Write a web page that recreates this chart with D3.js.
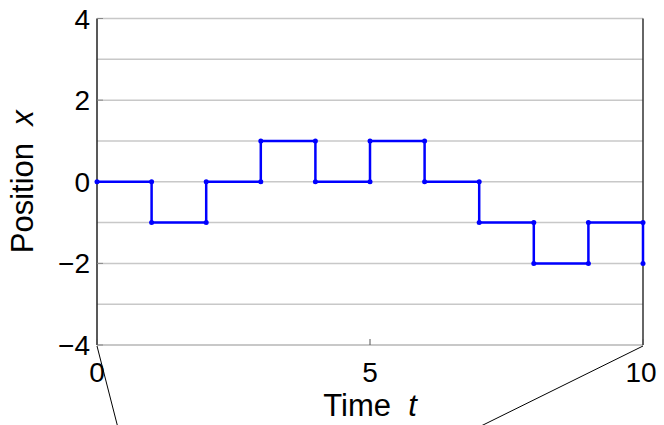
<!DOCTYPE html>
<html><head><meta charset="utf-8">
<script src="https://cdn.jsdelivr.net/npm/d3@7"></script>
<style>body{margin:0;background:#fff}svg{display:block}text{font-family:"Liberation Sans",Arial,Helvetica,sans-serif;fill:#000}</style>
</head><body>
<svg id="c" width="664" height="425"></svg>
<script>
const times = [0,1,2,3,4,5,6,7,8,9,10];
const positions = [0,-1,0,1,0,1,0,-1,-2,-1,-2];
const yTicks = [-4,-2,0,2,4];
const yGrid = [-4,-3,-2,-1,0,1,2,3,4];
const xTicks = [0,5,10];

const svg = d3.select("#c");
const L=97, R=643, T=18.5, B=345;
const x = d3.scaleLinear().domain([0,10]).range([L,R]);
const y = d3.scaleLinear().domain([-4,4]).range([B,T]);

// grid
svg.append("g").selectAll("line").data(yGrid).join("line")
  .attr("x1",L).attr("x2",R).attr("y1",d=>y(d)).attr("y2",d=>y(d))
  .attr("stroke","#c8c8c8").attr("stroke-width",d=>d===-4?2:1.5);

// axis lines
svg.append("line").attr("x1",L).attr("x2",L).attr("y1",T).attr("y2",B).attr("stroke","#222").attr("stroke-width",1.5);
svg.append("line").attr("x1",R).attr("x2",R).attr("y1",T).attr("y2",B).attr("stroke","#333").attr("stroke-width",1.5);

// inward ticks
svg.append("g").selectAll("line").data(yTicks).join("line")
  .attr("x1",L).attr("x2",L+6).attr("y1",d=>y(d)).attr("y2",d=>y(d)).attr("stroke","#888").attr("stroke-width",1);
svg.append("g").selectAll("line").data(xTicks).join("line")
  .attr("x1",d=>x(d)).attr("x2",d=>x(d)).attr("y1",B).attr("y2",B-6).attr("stroke","#555").attr("stroke-width",1);

// tick labels
svg.append("g").selectAll("text").data(yTicks).join("text")
  .attr("x",L-7).attr("y",d=>y(d)).attr("dy","0.36em").attr("text-anchor","end")
  .attr("font-size",28).text(d=>d<0?"\u2212"+Math.abs(d):d);
svg.append("g").selectAll("text").data(xTicks).join("text")
  .attr("x",d=>x(d)-(d===10?2:0)).attr("y",B+37).attr("text-anchor","middle")
  .attr("font-size",28).text(d=>d);

// axis labels
const xl = svg.append("text").attr("x",(L+R)/2).attr("y",416).attr("text-anchor","middle").attr("font-size",31);
xl.append("tspan").text("Time\u00a0\u00a0");
xl.append("tspan").attr("font-style","italic").text("t");
const yl = svg.append("text").attr("transform",`translate(33,${(T+B)/2}) rotate(-90)`).attr("text-anchor","middle").attr("font-size",31);
yl.append("tspan").text("Position\u00a0\u00a0");
yl.append("tspan").attr("font-style","italic").text("x");

// step path
const pts = [];
times.forEach((t,i)=>{
  if(i>0) pts.push([t,positions[i-1]]);
  pts.push([t,positions[i]]);
});
svg.append("path").datum(pts)
  .attr("d",d3.line().x(d=>x(d[0])).y(d=>y(d[1])))
  .attr("fill","none").attr("stroke","#0000ff").attr("stroke-width",2.5).attr("stroke-linejoin","miter");
svg.append("g").selectAll("circle").data(pts).join("circle")
  .attr("cx",d=>x(d[0])).attr("cy",d=>y(d[1])).attr("r",2.5).attr("fill","#0000ff");

// callout lines
svg.append("line").attr("x1",L).attr("y1",B+1).attr("x2",L+20.5).attr("y2",425+1).attr("stroke","#000").attr("stroke-width",1);
svg.append("line").attr("x1",R).attr("y1",B+1).attr("x2",481).attr("y2",425+1).attr("stroke","#000").attr("stroke-width",1);
</script>
</body></html>
